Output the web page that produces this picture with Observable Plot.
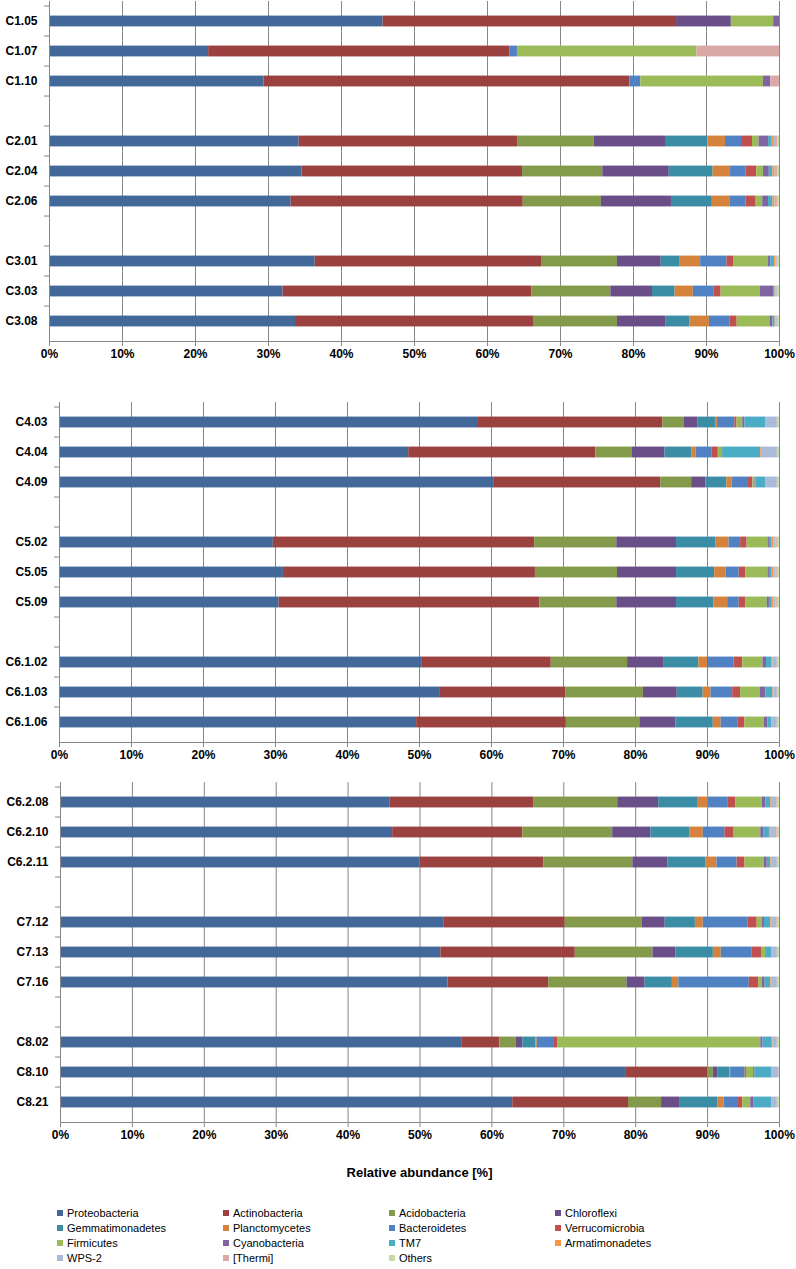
<!DOCTYPE html>
<html><head><meta charset="utf-8">
<script src="https://cdn.jsdelivr.net/npm/d3@7"></script>
<script src="https://cdn.jsdelivr.net/npm/@observablehq/plot@0.6"></script>
<style>
body{margin:0;background:#fff;font-family:"Liberation Sans",Arial,sans-serif;}
#root{position:relative;width:796px;height:1269px;overflow:hidden;}
.panel{position:absolute;left:0;}
#xtitle{position:absolute;top:1164px;left:60px;width:719px;text-align:center;font-weight:bold;font-size:13px;line-height:18px;color:#000;}
#legend{position:absolute;top:1206px;left:54px;display:grid;grid-template-columns:repeat(4,166px);font-size:11px;line-height:15px;color:#000;}
#legend .item{white-space:nowrap;}
#legend .sw{display:inline-block;width:6px;height:6px;margin-right:4px;margin-left:3px;vertical-align:1px;}
</style>
</head><body>
<div id="root">
  <div class="panel" id="p1" style="top:0px"></div>
  <div class="panel" id="p2" style="top:390px"></div>
  <div class="panel" id="p3" style="top:770px"></div>
  <div id="xtitle">Relative abundance [%]</div>
  <div id="legend"></div>
</div>
<script>
const phyla = ["Proteobacteria","Actinobacteria","Acidobacteria","Chloroflexi","Gemmatimonadetes","Planctomycetes","Bacteroidetes","Verrucomicrobia","Firmicutes","Cyanobacteria","TM7","Armatimonadetes","WPS-2","[Thermi]","Others"];
const colors = ["#43699A","#9B4240","#839A4B","#6A4E88","#3A8DA4","#D5833C","#4F81C3","#C0504D","#9BBB59","#8064A2","#4BACC6","#F79646","#A9BBD9","#D9A8A7","#C6D9A0"];
const samples = ["C1.05","C1.07","C1.10","C2.01","C2.04","C2.06","C3.01","C3.03","C3.08","C4.03","C4.04","C4.09","C5.02","C5.05","C5.09","C6.1.02","C6.1.03","C6.1.06","C6.2.08","C6.2.10","C6.2.11","C7.12","C7.13","C7.16","C8.02","C8.10","C8.21"];

const proteobacteria   = [45.7,21.8,29.4,34.2,34.6,33.1,36.4,32.0,33.7,58.2,48.5,60.3,29.7,31.1,30.5,50.3,52.8,49.6,45.8,46.2,50.0,53.3,52.9,53.9,55.8,78.6,62.9];
const actinobacteria   = [40.2,41.3,50.1,30.0,30.2,31.8,31.0,34.1,32.6,25.6,26.0,23.2,36.3,35.0,36.2,18.0,17.5,20.8,20.0,18.1,17.2,16.9,18.7,14.0,5.3,11.4,16.1];
const acidobacteria    = [0,0,0,10.4,11.0,10.7,10.4,10.8,11.5,3.0,5.0,4.3,11.4,11.4,10.7,10.6,10.8,10.2,11.7,12.5,12.4,10.7,10.8,10.9,2.3,0.8,4.6];
const chloroflexi      = [7.5,0,0,9.9,9.1,9.6,6.0,5.7,6.6,1.9,4.6,2.0,8.3,8.2,8.3,5.0,4.7,5.0,5.7,5.3,4.9,3.2,3.2,2.5,0.9,0.6,2.5];
const gemmatimonadetes = [0,0,0,5.7,6.0,5.6,2.6,3.1,3.3,2.5,3.7,2.9,5.5,5.3,5.2,4.9,3.6,5.2,5.5,5.4,5.3,4.2,5.2,3.8,1.8,1.7,5.3];
const planctomycetes   = [0,0,0,2.4,2.4,2.4,2.8,2.5,2.7,0.2,0.6,0.7,1.8,1.6,1.9,1.2,1.1,1.1,1.4,1.9,1.5,1.1,1.1,0.9,0.2,0.1,0.9];
const bacteroidetes    = [0,1.0,1.5,2.2,2.1,2.2,3.6,2.8,2.8,2.4,2.2,2.3,1.6,1.8,1.6,3.7,3.0,2.3,2.7,3.0,2.8,6.2,4.3,9.8,2.4,2.0,2.0];
const verrucomicrobia  = [0,0,0,1.5,1.5,1.4,0.9,1.0,1.0,0.3,0.9,0.6,0.9,0.9,0.9,1.2,1.1,1.0,1.1,1.2,1.1,1.3,1.3,1.3,0.5,0.2,0.6];
const firmicutes       = [5.8,24.6,16.8,0.9,0.9,0.9,4.8,5.4,4.5,0.8,0.5,0.3,2.9,3.1,3.0,2.8,2.7,2.7,3.7,3.8,2.7,0.7,0.6,0.5,28.2,1.0,1.1];
const cyanobacteria    = [0.8,0,1.0,1.3,0.8,0.8,0.3,1.8,0.4,0.3,0.1,0.1,0.2,0.2,0.3,0.5,0.8,0.5,0.5,0.4,0.4,0.3,0.1,0.4,0.3,0.2,0.4];
const tm7              = [0,0,0,0.5,0.5,0.6,0.5,0.2,0.3,2.9,5.3,1.4,0.3,0.3,0.4,0.7,1.0,0.5,0.7,0.8,0.5,0.9,0.7,0.8,1.3,2.3,2.5];
const armatimonadetes  = [0,0,0,0.3,0.3,0.3,0.2,0.1,0.1,0.1,0.1,0.1,0.3,0.3,0.2,0.2,0.1,0.1,0.2,0.2,0.1,0.1,0.1,0.1,0.1,0.1,0.1];
const wps2             = [0,0,0,0.3,0.2,0.2,0.2,0.2,0.2,1.5,2.2,1.5,0.3,0.3,0.3,0.6,0.5,0.7,0.6,0.8,0.8,0.7,0.7,0.8,0.6,0.9,0.7];
const thermi           = [0,11.3,1.2,0.2,0.2,0.2,0.1,0.1,0.1,0.1,0.1,0.1,0.2,0.2,0.2,0.1,0.1,0.1,0.1,0.1,0.1,0.1,0.1,0.1,0.1,0.05,0.1];
const others           = [0,0,0,0.2,0.2,0.2,0.2,0.2,0.2,0.2,0.2,0.2,0.3,0.3,0.3,0.2,0.2,0.2,0.3,0.3,0.2,0.3,0.2,0.2,0.2,0.05,0.2];

const panelGroups = [
  [["C1.05","C1.07","C1.10"],["C2.01","C2.04","C2.06"],["C3.01","C3.03","C3.08"]],
  [["C4.03","C4.04","C4.09"],["C5.02","C5.05","C5.09"],["C6.1.02","C6.1.03","C6.1.06"]],
  [["C6.2.08","C6.2.10","C6.2.11"],["C7.12","C7.13","C7.16"],["C8.02","C8.10","C8.21"]]
];
const xTicks = [0,10,20,30,40,50,60,70,80,90,100];

const series = [proteobacteria,actinobacteria,acidobacteria,chloroflexi,gemmatimonadetes,planctomycetes,bacteroidetes,verrucomicrobia,firmicutes,cyanobacteria,tm7,armatimonadetes,wps2,thermi,others];
const rows = [];
samples.forEach((s, i) => phyla.forEach((p, j) => rows.push({sample: s, phylum: p, value: series[j][i]})));

const gray = "#868686";
const font = "'Liberation Sans', Arial, sans-serif";

function makePanel(groups, marginLeft, marginTop) {
  const domain = [];
  groups.forEach((g, k) => { if (k > 0) domain.push(" ".repeat(k)); domain.push(...g); });
  const labels = groups.flat();
  const data = rows.filter(r => labels.includes(r.sample));
  const plotH = 340;
  const slot = plotH / domain.length;
  return Plot.plot({
    width: 796,
    height: marginTop + plotH + 28,
    marginLeft, marginRight: 17, marginTop, marginBottom: 28,
    x: {domain: [0, 100], axis: null, label: null},
    y: {domain, padding: 0, axis: null, label: null},
    color: {domain: phyla, range: colors},
    style: {fontFamily: font, background: "white", color: "black"},
    marks: [
      Plot.gridX(xTicks, {stroke: gray, strokeOpacity: 1}),
      Plot.barX(data, Plot.stackX({x: "value", y: "sample", fill: "phylum", order: phyla, insetTop: slot * 0.31, insetBottom: slot * 0.31})),
      Plot.ruleX([0], {stroke: gray}),
      Plot.frame({anchor: "bottom", stroke: gray}),
      Plot.axisY(domain, {tickSize: 5, dy: -slot / 2, tickFormat: () => "", stroke: gray, label: null}),
      Plot.axisY(labels, {tickSize: 0, tickPadding: 12, fontWeight: "bold", fontSize: 12, fill: "black", label: null}),
      Plot.axisX(xTicks, {tickSize: 5, tickPadding: 3, tickFormat: d => d + "%", fontWeight: "bold", fontSize: 12, stroke: gray, fill: "black", label: null})
    ]
  });
}

document.getElementById("p1").appendChild(makePanel(panelGroups[0], 49, 1));
document.getElementById("p2").appendChild(makePanel(panelGroups[1], 59, 12));
document.getElementById("p3").appendChild(makePanel(panelGroups[2], 60, 12));

const legend = document.getElementById("legend");
phyla.forEach((p, i) => {
  const it = document.createElement("div");
  it.className = "item";
  const sw = document.createElement("span");
  sw.className = "sw";
  sw.style.background = colors[i];
  it.appendChild(sw);
  it.appendChild(document.createTextNode(p));
  legend.appendChild(it);
});
</script>
</body></html>
